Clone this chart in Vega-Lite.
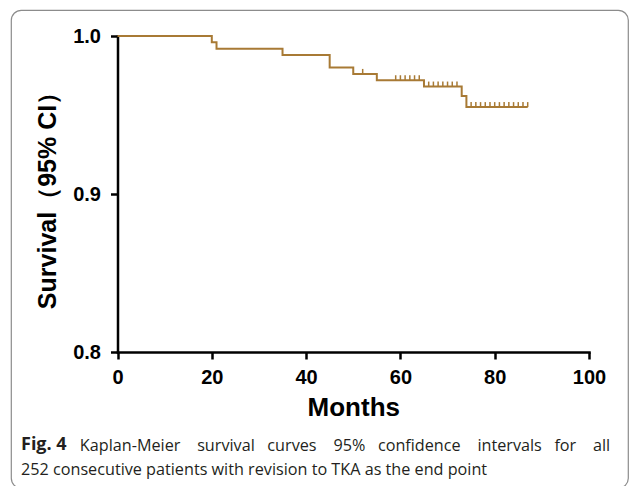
{
  "$schema": "https://vega.github.io/schema/vega-lite/v6.json",
  "width": 617,
  "height": 478,
  "autosize": {"type": "none"},
  "padding": {"left": 11, "top": 10, "right": 2, "bottom": 0},
  "background": "white",
  "config": {
    "view": {"stroke": "#8c8c8c", "strokeWidth": 1.2, "cornerRadius": 10},
    "axis": {
      "grid": false,
      "domainColor": "black",
      "tickColor": "black",
      "domainWidth": 2.5,
      "tickWidth": 2.5,
      "tickSize": 7,
      "domainCap": "square",
      "labelFont": "Liberation Sans",
      "labelFontWeight": "bold",
      "labelFontSize": 20,
      "labelColor": "black",
      "titleFont": "Liberation Sans",
      "titleFontWeight": "bold",
      "titleFontSize": 25,
      "titleColor": "black"
    }
  },
  "title": {
    "text": "Fig. 4",
    "subtitle": [
      "\u200b\u00a0\u00a0\u00a0\u00a0\u00a0\u00a0\u00a0\u00a0\u00a0\u00a0\u00a0\u00a0\u00a0\u00a0Kaplan-Meier \u00a0\u00a0\u00a0survival \u00a0\u00a0curves \u00a0\u00a0\u00a095% \u00a0\u00a0confidence \u00a0\u00a0\u00a0intervals \u00a0\u00a0for \u00a0\u00a0\u00a0all",
      "252 consecutive patients with revision to TKA as the end point"
    ],
    "orient": "bottom",
    "anchor": "start",
    "frame": "group",
    "offset": -52,
    "dx": 10,
    "font": "Open Sans",
    "fontSize": 18,
    "fontWeight": "bold",
    "color": "#231f20",
    "subtitleFont": "Open Sans",
    "subtitleFontSize": 16.2,
    "subtitleFontWeight": "normal",
    "subtitleColor": "#231f20",
    "subtitleLineHeight": 24,
    "subtitlePadding": -16.4
  },
  "datasets": {
    "curve": [
      {"month": 0, "survival": 1.0},
      {"month": 20, "survival": 0.996},
      {"month": 21, "survival": 0.992},
      {"month": 35, "survival": 0.988},
      {"month": 45, "survival": 0.980},
      {"month": 50, "survival": 0.976},
      {"month": 55, "survival": 0.972},
      {"month": 65, "survival": 0.968},
      {"month": 73, "survival": 0.962},
      {"month": 74, "survival": 0.955},
      {"month": 87, "survival": 0.955}
    ],
    "censor": [
      {"month": 52, "survival": 0.976},
      {"month": 59, "survival": 0.972},
      {"month": 60, "survival": 0.972},
      {"month": 61, "survival": 0.972},
      {"month": 62, "survival": 0.972},
      {"month": 63, "survival": 0.972},
      {"month": 64, "survival": 0.972},
      {"month": 66, "survival": 0.968},
      {"month": 67, "survival": 0.968},
      {"month": 68, "survival": 0.968},
      {"month": 69, "survival": 0.968},
      {"month": 70, "survival": 0.968},
      {"month": 71, "survival": 0.968},
      {"month": 72, "survival": 0.968},
      {"month": 75, "survival": 0.955},
      {"month": 76, "survival": 0.955},
      {"month": 77, "survival": 0.955},
      {"month": 78, "survival": 0.955},
      {"month": 79, "survival": 0.955},
      {"month": 80, "survival": 0.955},
      {"month": 81, "survival": 0.955},
      {"month": 82, "survival": 0.955},
      {"month": 83, "survival": 0.955},
      {"month": 84, "survival": 0.955},
      {"month": 85, "survival": 0.955},
      {"month": 86, "survival": 0.955},
      {"month": 87, "survival": 0.955}
    ]
  },
  "layer": [
    {
      "data": {"name": "curve"},
      "mark": {"type": "line", "interpolate": "step-after", "color": "#a87a35", "strokeWidth": 2},
      "encoding": {
        "x": {
          "field": "month",
          "type": "quantitative",
          "scale": {"domain": [0, 100], "range": [106.5, 578], "nice": false, "zero": false},
          "axis": {
            "values": [0, 20, 40, 60, 80, 100],
            "offset": -136,
            "labelPadding": 8,
            "labelFlush": false,
            "labelOverlap": false,
            "title": "Months",
            "titlePadding": 7,
            "titleFontSize": 26
          }
        },
        "y": {
          "field": "survival",
          "type": "quantitative",
          "scale": {"domain": [0.8, 1.0], "range": [342, 26], "nice": false, "zero": false},
          "axis": {
            "values": [0.8, 0.9, 1.0],
            "format": ".1f",
            "offset": -106.5,
            "labelPadding": 10,
            "labelFlush": false,
            "labelOverlap": false,
            "title": "Survival（95% CI）",
            "titlePadding": 12
          }
        }
      }
    },
    {
      "data": {"name": "censor"},
      "mark": {"type": "point", "shape": "M0,0L0,-1", "size": 100, "filled": false, "strokeWidth": 1.5, "color": "#a87a35", "opacity": 1},
      "encoding": {
        "x": {"field": "month", "type": "quantitative"},
        "y": {"field": "survival", "type": "quantitative"}
      }
    }
  ]
}
